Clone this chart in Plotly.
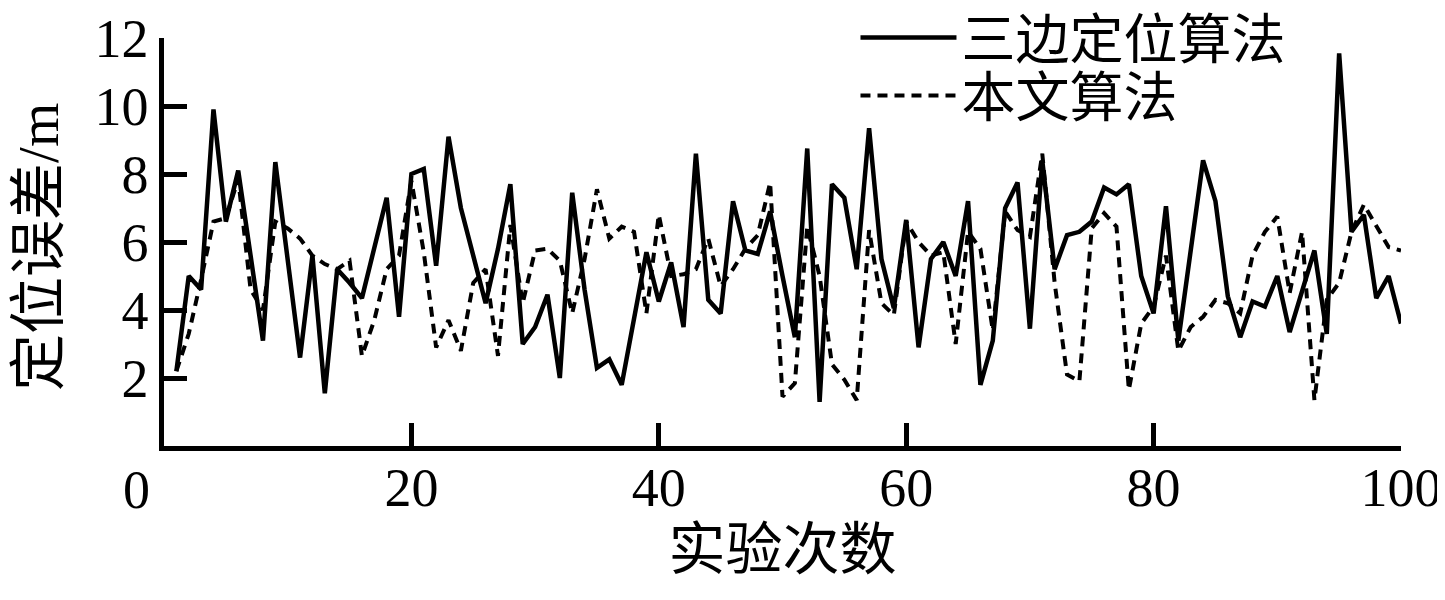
import plotly.graph_objects as go

# Data
trial = list(range(1, 101))
trilateration_err = [
    2.2, 5.0, 4.6, 9.9, 6.6, 8.1, 5.6, 3.1, 8.35, 5.5,
    2.6, 5.6, 1.55, 5.2, 4.8, 4.35, 5.8, 7.3, 3.8, 8.0,
    8.15, 5.3, 9.1, 7.0, 5.6, 4.2, 5.8, 7.7, 3.0, 3.5,
    4.45, 2.0, 7.45, 4.6, 2.3, 2.55, 1.8, 3.8, 5.7, 4.25,
    5.4, 3.5, 8.6, 4.3, 3.9, 7.2, 5.75, 5.65, 6.9, 5.0,
    3.2, 8.75, 1.3, 7.7, 7.3, 5.2, 9.35, 5.5, 4.05, 6.65,
    2.9, 5.5, 6.0, 5.0, 7.2, 1.8, 3.1, 7.0, 7.75, 3.45,
    8.4, 5.2, 6.2, 6.3, 6.6, 7.6, 7.4, 7.7, 5.0, 3.9,
    7.05, 3.1, 5.8, 8.4, 7.2, 4.4, 3.2, 4.25, 4.1, 5.0,
    3.35, 4.5, 5.75, 3.3, 11.55, 6.3, 6.8, 4.35, 5.0, 3.6,
]
proposed_err = [
    2.2, 3.3, 4.9, 6.6, 6.7, 7.85, 4.6, 4.0, 6.6, 6.4,
    6.1, 5.6, 5.35, 5.2, 5.45, 2.65, 3.7, 5.2, 5.6, 7.8,
    5.7, 2.9, 3.7, 2.8, 4.8, 5.2, 2.65, 6.5, 4.2, 5.75,
    5.8, 5.45, 3.9, 5.5, 7.55, 6.1, 6.45, 6.3, 3.9, 6.8,
    5.0, 5.05, 5.2, 6.1, 4.7, 5.2, 5.8, 6.2, 7.75, 1.45,
    1.85, 6.45, 5.0, 2.4, 1.95, 1.35, 6.35, 4.2, 3.85, 6.6,
    6.0, 5.6, 5.7, 3.0, 6.3, 5.8, 3.4, 6.9, 6.35, 6.15,
    8.6, 4.8, 2.1, 1.9, 6.4, 6.85, 6.45, 1.65, 3.6, 4.1,
    5.6, 2.8, 3.5, 3.8, 4.3, 4.2, 3.9, 5.6, 6.3, 6.75,
    4.5, 6.3, 1.35, 4.3, 4.8, 6.3, 7.1, 6.5, 5.85, 5.75,
]
series_names = ["三边定位算法", "本文算法"]
x_ticks = [20, 40, 60, 80, 100]
y_ticks = [2, 4, 6, 8, 10, 12]

FONT = "Liberation Serif, Times New Roman, Noto Sans CJK SC, serif"

# page body has an 8px default margin, so the figure is drawn 8px smaller
W, H = 1437, 592
ML, MR, MT, MB = 156, 44, 30, 154
PLOT_W = W - ML - MR
PLOT_H = H - MT - MB

fig = go.Figure()
fig.add_trace(go.Scatter(
    x=trial, y=trilateration_err, mode="lines", name=series_names[0],
    line=dict(color="black", width=4.5), legend="legend",
))
fig.add_trace(go.Scatter(
    x=trial, y=proposed_err, mode="lines", name=series_names[1],
    line=dict(color="black", width=4, dash="10px,7px"), legend="legend2",
))

legend_style = dict(
    x=0.559, xanchor="left", yanchor="middle",
    bgcolor="rgba(0,0,0,0)", itemwidth=96,
    font=dict(size=54, family=FONT),
)
fig.update_layout(
    width=W, height=H,
    margin=dict(l=ML, r=MR, t=MT, b=MB, autoexpand=False),
    plot_bgcolor="white", paper_bgcolor="white",
    font=dict(family=FONT, size=54, color="black"),
    showlegend=True,
    legend=dict(y=1.0, **legend_style),
    legend2=dict(y=1 - 58 / PLOT_H, **legend_style),
)

# origin label sits left of the corner, like in the source figure
fig.add_annotation(
    text="0", xref="paper", yref="paper",
    x=-28 / PLOT_W, y=-44 / PLOT_H, xanchor="center", yanchor="middle",
    showarrow=False, font=dict(size=54, family=FONT),
)
# y axis title
fig.add_annotation(
    text="定位误差/m", xref="paper", yref="paper", textangle=-90,
    x=-125 / PLOT_W, y=0.488, xanchor="center", yanchor="middle",
    showarrow=False, font=dict(size=57, family=FONT),
)

fig.update_xaxes(
    range=[0, 100], tickvals=x_ticks,
    showline=True, linecolor="black", linewidth=4.5,
    ticks="inside", ticklen=23, tickwidth=4.5, tickcolor="black",
    showgrid=False, zeroline=False, automargin=False,
    ticklabelstandoff=-10,
    title=dict(text="实验次数", standoff=14, font=dict(size=57)),
    tickfont=dict(size=54),
)
fig.update_yaxes(
    range=[0, 12], tickvals=y_ticks,
    showline=True, linecolor="black", linewidth=4.5,
    ticks="inside", ticklen=23, tickwidth=4.5, tickcolor="black",
    showgrid=False, zeroline=False, automargin=False,
    tickfont=dict(size=54),
)

fig.write_html("out.html")
